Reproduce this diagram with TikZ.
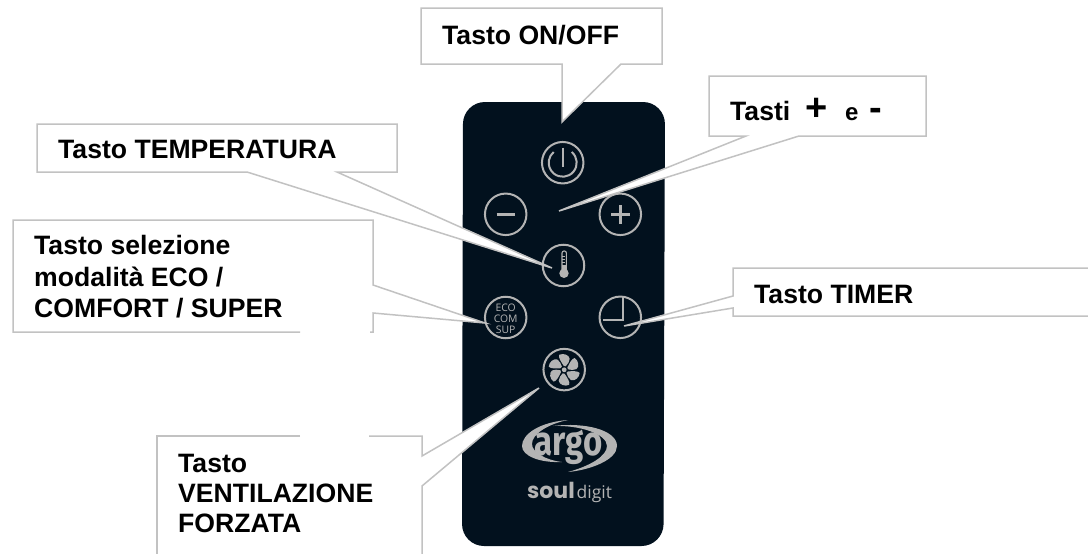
\documentclass[tikz,border=0pt]{standalone}
\usepackage{fontspec}
\usepackage{graphicx}
\setmainfont{Liberation Sans}
\newfontfamily\iconfont{Open Sans}
\newfontfamily\logofont{Fira Sans}
\newfontfamily\soulfont{Poppins}
\definecolor{remote}{HTML}{02111E}
\definecolor{icon}{HTML}{B4B4B4}
\definecolor{calloutline}{HTML}{C2C2C2}
\tikzset{
  lbl/.style={anchor=base west,inner sep=0pt,font=\fontsize{26.6}{30}\selectfont\bfseries,text=black},
  btn/.style={circle,draw=icon,line width=2pt,minimum size=41.5pt,inner sep=0pt},
  glyph/.style={draw=icon,line width=2pt},
  cout/.style={draw=calloutline,line width=1.5pt,line join=miter},
  cfill/.style={fill=white,draw=none},
  eco/.style={inner sep=0pt,text=icon,font=\iconfont\fontsize{10.4}{10.4}\selectfont}
}
\begin{document}
\begin{tikzpicture}[x=1pt,y=-1pt]
\useasboundingbox (0,0) rectangle (1088,554);
% remote body
\fill[remote,rounded corners=22pt] (463,102) -- (665,102) -- (663.5,546) -- (462,546) -- cycle;
% buttons
\node[btn] (power) at (562.7,162.7) {};
\node[btn] (minus) at (505.7,214.3) {};
\node[btn] (plus) at (620.3,214.3) {};
\node[btn] (thermo) at (563.5,265.5) {};
\node[btn] (ecob) at (505.7,317.5) {};
\node[btn] (timer) at (620.3,317.3) {};
\node[btn] (fan) at (564.2,369.6) {};
% power glyph
\draw[glyph] (571.7,152) arc[start angle=-50,end angle=230,radius=14];
\draw[glyph,line width=2.2pt] (562.7,147.5) -- (562.7,166.5);
% minus / plus
\draw[glyph,line width=3.5pt] (496.5,214.3) -- (515,214.3);
\draw[glyph,line width=3pt] (611,214.3) -- (630,214.3) (620.3,205) -- (620.3,224);
% thermometer
\fill[icon] (564,273.3) circle[radius=4.7];
\draw[icon,line width=1.1pt,rounded corners=2pt] (562,270) -- (562,251) -- (566.4,251) -- (566.4,270);
\fill[icon] (562,265) rectangle (566.4,270);
\draw[icon,line width=.7pt] (562,256) -- (565,256) (562,259) -- (565,259) (562,262) -- (565,262);
% eco text
\node[eco] (ecot) at (505.7,307.6) {ECO};
\node[eco] (comt) at (505.7,319.2) {COM};
\node[eco] (supt) at (505.7,330) {SUP};
% timer glyph
\draw[glyph] (623.3,296) -- (623.3,320) -- (603,320);
% fan glyph
\begin{scope}[shift={(564.2,369.8)}]
\fill[icon] (0,0) circle[radius=2.4];
\foreach \a in {0,60,...,300}{
  \fill[icon,rotate=\a] (-0.5,-4) .. controls (-3,-8) and (-6,-12) .. (-5,-15)
     .. controls (-1,-17) and (5,-15) .. (5.5,-11)
     .. controls (6,-8) and (3,-6) .. (1.5,-3.5) -- cycle;
}
\end{scope}
% logo swooshes
\fill[icon] (568,420) .. controls (540,422) and (522,434) .. (522,446)
   .. controls (522,456) and (540,463) .. (562,462)
   .. controls (545,460) and (532,452) .. (532,444)
   .. controls (532,434) and (548,424) .. (568,420) -- cycle;
\fill[icon] (553,426) .. controls (585,422) and (617,430) .. (617,446)
   .. controls (617,460) and (590,470) .. (568,472)
   .. controls (590,466) and (607,456) .. (607,446)
   .. controls (607,434) and (580,425) .. (553,426) -- cycle;
\node[anchor=base,inner sep=0pt,text=icon,font=\logofont\fontsize{33}{33}\selectfont\bfseries] (argo) at (568.5,455) {\scalebox{1}[1.25]{argo}};
\node[anchor=base west,inner sep=0pt,text=icon,font=\soulfont\fontsize{22}{22}\selectfont\bfseries] (soul) at (527,498) {soul};
\node[anchor=base west,inner sep=0pt,text=icon,font=\iconfont\fontsize{17.5}{17.5}\selectfont] (digit) at (576.5,498) {digit};
% callouts: ON/OFF
\coordinate (onTip) at (562,122);
\filldraw[cout,fill=white] (421,8) -- (662,8) -- (662,64) -- (621,64) -- (onTip) -- (562,64) -- (421,64) -- cycle;
\node[lbl] (onlbl) at (442,44) {Tasto ON/OFF};
% Tasti
\coordinate (pmTip) at (559,211);
\filldraw[cout,fill=white] (709,76) -- (926,76) -- (926,136) -- (799,136) -- (pmTip) -- (746,136) -- (709,136) -- cycle;
\node[lbl] (pmlbl) at (730,120) {Tasti};
\node[lbl,font=\fontsize{38}{38}\selectfont\bfseries] (pmplus) at (805,120) {+};
\node[lbl,font=\fontsize{24}{24}\selectfont\bfseries] (pme) at (845,120) {e};
\node[lbl,font=\fontsize{38}{38}\selectfont\bfseries] (pmminus) at (869,120) {-};
% Temperatura
\coordinate (tTip) at (552,268);
\filldraw[cout,fill=white] (37,124) -- (397,124) -- (397,172) -- (337,172) -- (tTip) -- (247,172) -- (37,172) -- cycle;
\node[lbl] (tlbl) at (58,158) {Tasto TEMPERATURA};
% Selezione
\coordinate (sTip) at (485,323);
\fill[cfill] (13,220) -- (373,220) -- (373,285) -- (sTip) -- (373,313) -- (373,332) -- (13,332) -- cycle;
\draw[cout] (300,332) -- (13,332) -- (13,220) -- (373,220) -- (373,285) -- (sTip) -- (373,313) -- (373,332) -- (370,332);
\node[lbl] (s1) at (34,254) {Tasto selezione};
\node[lbl] (s2) at (34,286) {modalità ECO /};
\node[lbl] (s3) at (34,317) {COMFORT / SUPER};
% Timer
\coordinate (mTip) at (624,326);
\fill[cfill] (1088,268) -- (733,268) -- (733,296) -- (mTip) -- (733,308) -- (733,316) -- (1088,316) -- cycle;
\draw[cout] (1088,268) -- (733,268) -- (733,296) -- (mTip) -- (733,308) -- (733,316) -- (1088,316);
\node[lbl] (mlbl) at (754,303) {Tasto TIMER};
% Ventilazione
\coordinate (vTip) at (539,388);
\fill[cfill] (157,436) -- (422,436) -- (422,456) -- (vTip) -- (422,486) -- (422,554) -- (157,554) -- cycle;
\draw[cout] (300,436) -- (157,436) -- (157,554);
\draw[cout] (369,436) -- (422,436) -- (422,456) -- (vTip) -- (422,486) -- (422,554);
\node[lbl] (v1) at (178,472) {Tasto};
\node[lbl] (v2) at (178,502) {VENTILAZIONE};
\node[lbl] (v3) at (178,532) {FORZATA};
\end{tikzpicture}
\end{document}
